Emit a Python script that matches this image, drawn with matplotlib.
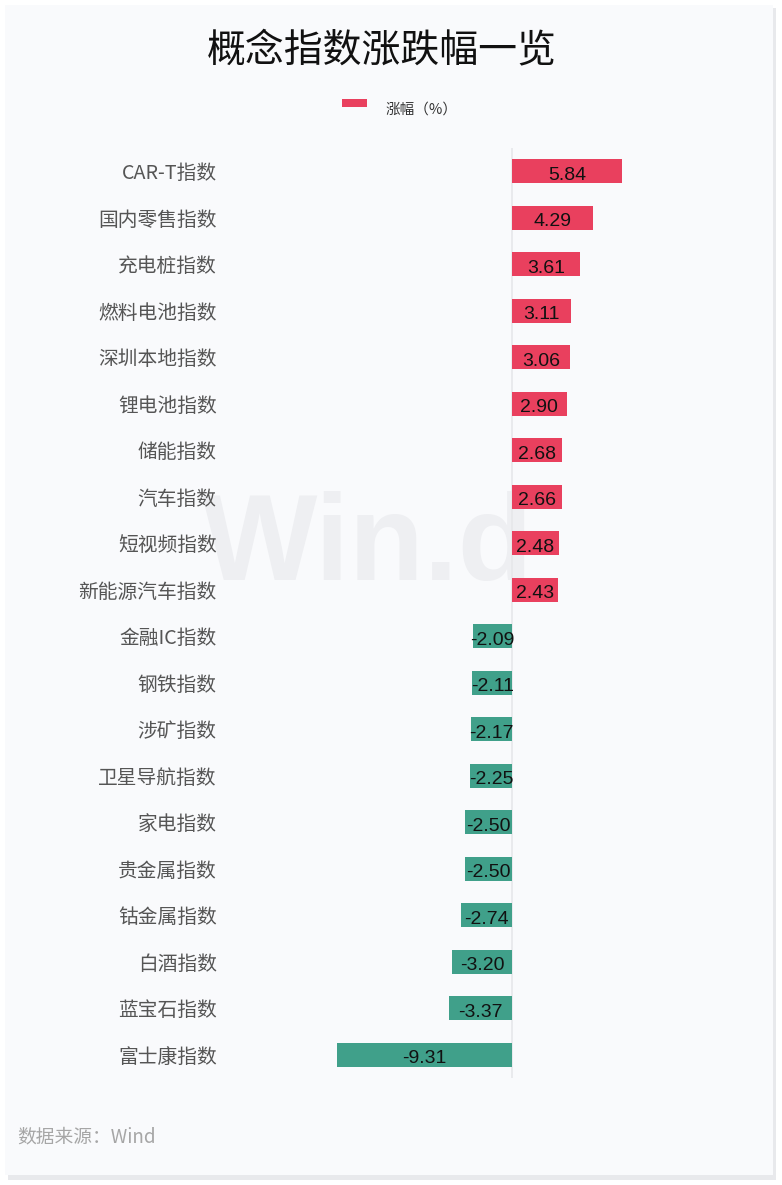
import matplotlib.pyplot as plt
from matplotlib.patches import Rectangle

plt.rcParams['font.family'] = ['Noto Sans CJK SC', 'DejaVu Sans']

# data
categories = ['CAR-T指数', '国内零售指数', '充电桩指数', '燃料电池指数', '深圳本地指数',
              '锂电池指数', '储能指数', '汽车指数', '短视频指数', '新能源汽车指数',
              '金融IC指数', '钢铁指数', '涉矿指数', '卫星导航指数', '家电指数',
              '贵金属指数', '钴金属指数', '白酒指数', '蓝宝石指数', '富士康指数']
changes = [5.84, 4.29, 3.61, 3.11, 3.06, 2.90, 2.68, 2.66, 2.48, 2.43,
           -2.09, -2.11, -2.17, -2.25, -2.50, -2.50, -2.74, -3.20, -3.37, -9.31]

RED = '#e9405e'
GREEN = '#40a08a'
BG = '#f9fafc'

W, H = 782, 1185
fig = plt.figure(figsize=(W / 100, H / 100), dpi=100)
fig.patch.set_facecolor('white')

# card with shadow
fig.patches.append(Rectangle((8 / W, 1 - 1180 / H), 768 / W, 1172 / H,
                             transform=fig.transFigure, facecolor='#e8e9ec',
                             edgecolor='none', zorder=-10))
fig.patches.append(Rectangle((5 / W, 1 - 1175 / H), 768 / W, 1170 / H,
                             transform=fig.transFigure, facecolor=BG,
                             edgecolor='none', zorder=-9))

# watermark
fig.text(368 / W, 1 - 548 / H, 'Win.d', fontsize=88, fontweight='bold',
         color='#eeeff2', ha='center', va='center',
         family=['Liberation Sans', 'DejaVu Sans'], zorder=-5)

# axes: x pixels 225..760, y pixels 148..1078
ax = fig.add_axes([225 / W, 1 - 1078 / H, (760 - 225) / W, (1078 - 148) / H])
ax.set_facecolor('none')
ax.set_zorder(2)

ypos = list(range(len(categories)))
colors = [RED if v > 0 else GREEN for v in changes]
ax.barh(ypos, changes, height=0.52, color=colors, zorder=2)

for y, v in zip(ypos, changes):
    ax.text(v / 2, y + 0.04, '%.2f' % v, ha='center', va='center_baseline',
            fontsize=14, family=['Liberation Sans', 'DejaVu Sans'],
            color='#111111', zorder=3)

ax.axvline(0, color='#e6e7ea', lw=1.2, zorder=1)
ax.set_xlim(-15.27, 13.19)
ax.set_ylim(19.5, -0.5)
ax.set_yticks(ypos)
ax.set_yticklabels(categories, fontsize=14.2, color='#555555')
ax.tick_params(axis='y', length=0, pad=6)
ax.set_xticks([])
for s in ax.spines.values():
    s.set_visible(False)

# title
fig.text(382 / W, 1 - 50 / H, '概念指数涨跌幅一览', fontsize=28, color='#111111',
         ha='center', va='center')

# legend
fig.patches.append(Rectangle((342 / W, 1 - 107 / H), 25 / W, 8 / H,
                             transform=fig.transFigure, facecolor=RED,
                             edgecolor='none'))
fig.text(386 / W, 1 - 110 / H, '涨幅（%）', fontsize=10.5, color='#333333',
         ha='left', va='center')

# source
fig.text(17 / W, 1 - 1137 / H, '数据来源：Wind', fontsize=13.5, color='#a6a6a6',
         ha='left', va='center')

fig.savefig('out.png', dpi=100)
